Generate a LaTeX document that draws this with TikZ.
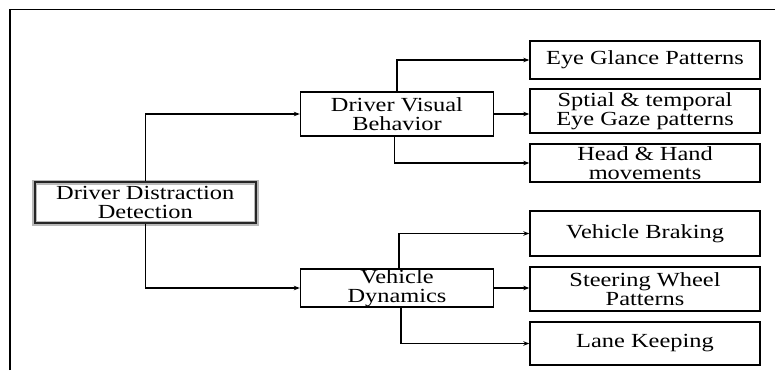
\documentclass[tikz,border=0pt]{standalone}
\usepackage{fontspec}
\setmainfont[FakeStretch=1.22]{Liberation Serif}
\usetikzlibrary{arrows.meta}
\begin{document}
\begin{tikzpicture}[x=1pt,y=-1pt,
  box/.style={draw=black, line width=1.4pt, fill=white, inner sep=0pt, align=center,
    font=\fontsize{20}{19.5}\selectfont, anchor=center},
  conn/.style={line width=1.2pt, -{Stealth[length=6pt,width=4.5pt]}}]
\useasboundingbox (0,0) rectangle (775,370);
\draw[line width=1.2pt] (10,370) -- (10,9.5) -- (775,9.5);
% root shadow
\draw[gray!55, line width=5pt] (34.7,182) rectangle (256,223);
\node[box, line width=2.4pt, draw=black!85, fill=none, minimum width=221pt, minimum height=41pt] (root) at (145.3,202.5) {Driver Distraction\\Detection};
\node[box, minimum width=193pt, minimum height=44pt] (dvb) at (397,114) {Driver Visual\\Behavior};
\node[box, minimum width=193pt, minimum height=38pt] (vd) at (397,288) {Vehicle\\Dynamics};
\node[box, minimum width=230pt, minimum height=38pt] (eye) at (645,60) {Eye Glance Patterns};
\node[box, minimum width=230pt, minimum height=44pt] (spt) at (645,111) {Sptial \& temporal\\Eye Gaze patterns};
\node[box, minimum width=230pt, minimum height=38pt] (head) at (645,163) {Head \& Hand\\movements};
\node[box, minimum width=230pt, minimum height=45pt] (brake) at (645,233.5) {Vehicle Braking};
\node[box, minimum width=230pt, minimum height=44pt] (steer) at (645,289) {Steering Wheel\\Patterns};
\node[box, minimum width=230pt, minimum height=43pt] (lane) at (645,343.5) {Lane Keeping};
\draw[conn] (root.north) |- (dvb.west);
\draw[conn] (root.south) |- (vd.west);
\draw[conn] (dvb.north) |- (eye.west);
\draw[conn] (dvb.east) -- (dvb.east -| spt.west);
\draw[conn] ([xshift=-2.5pt]dvb.south) |- (head.west);
\draw[conn] ([xshift=2pt]vd.north) |- (brake.west);
\draw[conn] (vd.east) -- (vd.east -| steer.west);
\draw[conn] ([xshift=4pt]vd.south) |- (lane.west);
\end{tikzpicture}
\end{document}
